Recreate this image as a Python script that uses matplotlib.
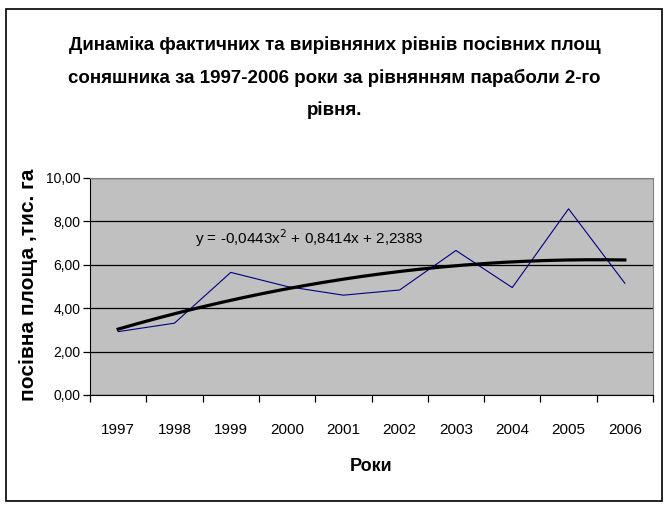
import numpy as np
import matplotlib.pyplot as plt
from matplotlib.font_manager import fontManager
from matplotlib.patches import Rectangle

# Дані: посівні площі соняшника, тис. га
years = ['1997', '1998', '1999', '2000', '2001', '2002', '2003', '2004', '2005', '2006']
area = [2.92, 3.31, 5.65, 5.0, 4.60, 4.84, 6.66, 4.95, 8.58, 5.15]

# коефіцієнти параболи з підпису на графіку
coef = [-0.0443, 0.8414, 2.2383]
eq_text = 'y = -0,0443x$^{2}$ + 0,8414x + 2,2383'

title = ('Динаміка фактичних та вирівняних рівнів посівних площ\n'
         'соняшника за 1997-2006 роки за рівнянням параболи 2-го\n'
         'рівня.')
ylabel = 'посівна площа ,тис. га'
xlabel = 'Роки'

names = set(f.name for f in fontManager.ttflist)
narrow = 'Liberation Sans Narrow' if 'Liberation Sans Narrow' in names else 'Liberation Sans'
plt.rcParams['font.family'] = [narrow, 'DejaVu Sans']

fig = plt.figure(figsize=(6.69, 5.09), dpi=100)
fig.patch.set_facecolor('white')
fig.add_artist(Rectangle((6 / 669, 1 - 501 / 509), 656 / 669, 492 / 509,
                         transform=fig.transFigure, fill=False,
                         edgecolor='black', linewidth=1.2))

ax = fig.add_axes([90 / 669, 1 - 395 / 509, 563 / 669, 217 / 509])
ax.set_facecolor('#c0c0c0')

x = np.arange(1, len(years) + 1)
ax.plot(x, area, color='#000080', linewidth=0.8, zorder=3)

xt = np.linspace(1, len(years), 200)
ax.plot(xt, np.polyval(coef, xt), color='black', linewidth=2.3, zorder=4)

ax.text(2.36, 7.25, eq_text, fontsize=11, va='center', ha='left', zorder=5)

ax.set_xlim(0.5, len(years) + 0.5)
ax.set_ylim(0, 10)
ax.set_yticks(np.arange(0, 11, 2))
ax.set_yticklabels([f'{v:.2f}'.replace('.', ',') for v in np.arange(0, 11, 2)], fontsize=10)
ax.yaxis.grid(True, color='black', linewidth=0.9)
ax.set_axisbelow(True)

ax.set_xticks(np.arange(0.5, len(years) + 1, 1))
ax.set_xticklabels([])
ax.set_xticks(x, minor=True)
ax.set_xticklabels(years, minor=True, fontsize=11)
ax.tick_params(axis='x', which='minor', length=0, pad=20)
ax.tick_params(axis='both', which='major', direction='out', length=5, width=0.9)
ax.tick_params(axis='y', pad=2)

for s in ['top', 'right']:
    ax.spines[s].set_color('#808080')
for s in ['left', 'bottom']:
    ax.spines[s].set_color('black')

ax.set_ylabel(ylabel, fontsize=15, fontweight='bold')
ax.yaxis.set_label_coords(-0.092, 0.507)
ax.set_xlabel(xlabel, fontsize=13, fontweight='bold', labelpad=15)

fig.text(0.5, 1 - 78 / 509, title, ha='center', va='center', fontsize=13.5,
         fontweight='bold', linespacing=2.05)

fig.savefig('out.png', dpi=100)
